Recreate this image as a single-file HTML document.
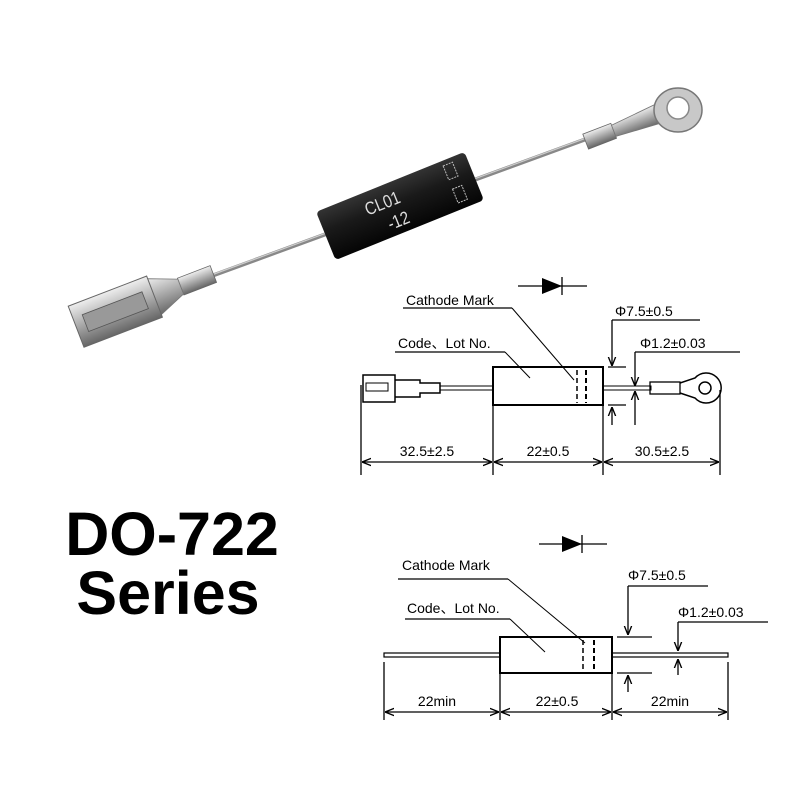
<!DOCTYPE html>
<html><head><meta charset="utf-8"><style>
html,body{margin:0;padding:0;background:#fff;}
svg{display:block;}
text{font-family:"Liberation Sans",sans-serif;}
</style></head><body>
<svg width="800" height="800" viewBox="0 0 800 800" xmlns="http://www.w3.org/2000/svg">
<rect width="800" height="800" fill="#fff"/>
<defs>
<linearGradient id="met" x1="0" y1="0" x2="0" y2="1">
<stop offset="0" stop-color="#eee"/><stop offset="0.5" stop-color="#aaa"/><stop offset="1" stop-color="#666"/>
</linearGradient>
<linearGradient id="blk" x1="0" y1="0" x2="0" y2="1">
<stop offset="0" stop-color="#333"/><stop offset="0.4" stop-color="#1a1a1a"/><stop offset="1" stop-color="#050505"/>
</linearGradient>
<marker id="ar" viewBox="0 0 10 10" refX="10" refY="5" markerWidth="7" markerHeight="7" orient="auto-start-reverse">
<path d="M0,1 L10,5 L0,9" fill="none" stroke="#000" stroke-width="1.5"/>
</marker>
</defs>

<!-- PHOTO -->
<g>
<line x1="195" y1="282" x2="600" y2="134" stroke="#888" stroke-width="4"/>
<line x1="195" y1="281" x2="600" y2="133" stroke="#ccc" stroke-width="1.2"/>
<g transform="translate(400,206) rotate(-22)">
<rect x="-80" y="-26" width="160" height="52" rx="4" fill="url(#blk)"/>
<text x="-18" y="-3" fill="#ddd" font-size="18" text-anchor="middle" transform="scale(0.85,1)">CL01</text>
<text x="-8" y="19" fill="#ddd" font-size="18" text-anchor="middle" transform="scale(0.85,1)">-12</text>
<rect x="55" y="-21" width="10" height="15" fill="none" stroke="#bbb" stroke-width="1" stroke-dasharray="2 1"/>
<rect x="55" y="4" width="10" height="15" fill="none" stroke="#bbb" stroke-width="1" stroke-dasharray="2 1"/>
</g>
<g transform="translate(595,138) rotate(-21)">
<rect x="-10" y="-8" width="30" height="16" fill="url(#met)" stroke="#666" stroke-width="0.8"/>
<path d="M20,-6 L70,-10 L70,10 L20,6 Z" fill="url(#met)" stroke="#777" stroke-width="0.8"/>
</g>
<ellipse cx="678" cy="110" rx="24" ry="22" fill="#c8c8c8" stroke="#777" stroke-width="1.5"/>
<circle cx="678" cy="108" r="11" fill="#fff" stroke="#888" stroke-width="1.5"/>
<g transform="translate(190,283) rotate(-21)">
<rect x="-10" y="-9" width="35" height="18" fill="url(#met)" stroke="#666" stroke-width="0.8"/>
<path d="M-10,-8 L-40,-20 L-40,20 L-10,8 Z" fill="url(#met)" stroke="#777" stroke-width="0.8"/>
<rect x="-122" y="-22" width="84" height="44" fill="url(#met)" stroke="#666" stroke-width="1"/>
<rect x="-112" y="-9" width="64" height="18" fill="#999" stroke="#555" stroke-width="0.8"/>
</g>
</g>

<!-- TOP DRAWING -->
<g stroke="#000" fill="none" stroke-width="1.3">
<line x1="518" y1="286" x2="587" y2="286"/>
<line x1="562" y1="277" x2="562" y2="295"/>
<line x1="403" y1="308" x2="512" y2="308"/>
<line x1="512" y1="308" x2="574" y2="380" stroke-width="1"/>
<line x1="395" y1="352" x2="505" y2="352"/>
<line x1="505" y1="352" x2="530" y2="378" stroke-width="1"/>
<line x1="612" y1="320" x2="700" y2="320"/>
<line x1="612" y1="320" x2="612" y2="366" marker-end="url(#ar)"/>
<line x1="612" y1="425" x2="612" y2="407" marker-end="url(#ar)"/>
<line x1="635" y1="352" x2="740" y2="352"/>
<line x1="635" y1="352" x2="635" y2="386" marker-end="url(#ar)"/>
<line x1="635" y1="425" x2="635" y2="391" marker-end="url(#ar)"/>
<line x1="608" y1="367" x2="626" y2="367"/>
<line x1="608" y1="405" x2="626" y2="405"/>
<rect x="493" y="367" width="110" height="38" stroke-width="2"/>
<line x1="577" y1="370" x2="577" y2="403" stroke-dasharray="5 3" stroke-width="1.5"/>
<line x1="586" y1="370" x2="586" y2="403" stroke-dasharray="5 3" stroke-width="2"/>
<rect x="440" y="386" width="53" height="4" stroke-width="1"/>
<rect x="603" y="386" width="48" height="4" stroke-width="1"/>
<rect x="363" y="375" width="32" height="27" stroke-width="1.5"/>
<rect x="366" y="383" width="22" height="8" stroke-width="1"/>
<path d="M395,380 L420,380 L420,383 L440,383 L440,393 L420,393 L420,397 L395,397" stroke-width="1.5"/>
<rect x="650" y="382" width="30" height="12" stroke-width="1.3"/>
<path d="M680,383 L695,378 A15,15 0 1 1 695,398 L680,393" stroke-width="1.5"/>
<circle cx="705" cy="388" r="6" stroke-width="1.5"/>
<line x1="361" y1="385" x2="361" y2="475"/>
<line x1="493" y1="405" x2="493" y2="475"/>
<line x1="603" y1="405" x2="603" y2="475"/>
<line x1="720" y1="390" x2="720" y2="475"/>
<line x1="362" y1="462" x2="492" y2="462" marker-start="url(#ar)" marker-end="url(#ar)"/>
<line x1="494" y1="462" x2="602" y2="462" marker-start="url(#ar)" marker-end="url(#ar)"/>
<line x1="604" y1="462" x2="719" y2="462" marker-start="url(#ar)" marker-end="url(#ar)"/>
</g>
<polygon points="542,278 542,294 562,286" fill="#000"/>
<g font-size="14" fill="#000">
<text x="406" y="305">Cathode Mark</text>
<text x="398" y="348">Code、Lot No.</text>
<text x="615" y="316">Φ7.5±0.5</text>
<text x="640" y="348">Φ1.2±0.03</text>
<text x="427" y="456" text-anchor="middle">32.5±2.5</text>
<text x="548" y="456" text-anchor="middle">22±0.5</text>
<text x="662" y="456" text-anchor="middle">30.5±2.5</text>
</g>

<!-- TITLE -->
<g font-size="61" font-weight="bold" fill="#000" text-anchor="middle">
<text x="172" y="555">DO-722</text>
<text x="168" y="614">Series</text>
</g>

<!-- BOTTOM DRAWING -->
<g stroke="#000" fill="none" stroke-width="1.3">
<line x1="539" y1="544" x2="607" y2="544"/>
<line x1="582" y1="535" x2="582" y2="553"/>
<line x1="398" y1="579" x2="508" y2="579"/>
<line x1="508" y1="579" x2="585" y2="643" stroke-width="1"/>
<line x1="405" y1="619" x2="510" y2="619"/>
<line x1="510" y1="619" x2="545" y2="652" stroke-width="1"/>
<line x1="628" y1="586" x2="708" y2="586"/>
<line x1="628" y1="586" x2="628" y2="635" marker-end="url(#ar)"/>
<line x1="628" y1="692" x2="628" y2="675" marker-end="url(#ar)"/>
<line x1="678" y1="622" x2="768" y2="622"/>
<line x1="678" y1="622" x2="678" y2="651" marker-end="url(#ar)"/>
<line x1="678" y1="675" x2="678" y2="659" marker-end="url(#ar)"/>
<line x1="617" y1="637" x2="652" y2="637"/>
<line x1="617" y1="673" x2="652" y2="673"/>
<rect x="500" y="637" width="112" height="36" stroke-width="2"/>
<line x1="583" y1="640" x2="583" y2="671" stroke-dasharray="5 3" stroke-width="1.5"/>
<line x1="594" y1="640" x2="594" y2="671" stroke-dasharray="5 3" stroke-width="2"/>
<rect x="384" y="653" width="116" height="4" stroke-width="1.2"/>
<rect x="612" y="653" width="116" height="4" stroke-width="1.2"/>
<line x1="384" y1="662" x2="384" y2="720"/>
<line x1="500" y1="673" x2="500" y2="720"/>
<line x1="612" y1="673" x2="612" y2="720"/>
<line x1="728" y1="662" x2="728" y2="720"/>
<line x1="385" y1="712" x2="499" y2="712" marker-start="url(#ar)" marker-end="url(#ar)"/>
<line x1="501" y1="712" x2="611" y2="712" marker-start="url(#ar)" marker-end="url(#ar)"/>
<line x1="613" y1="712" x2="727" y2="712" marker-start="url(#ar)" marker-end="url(#ar)"/>
</g>
<polygon points="562,536 562,552 582,544" fill="#000"/>
<g font-size="14" fill="#000">
<text x="402" y="570">Cathode Mark</text>
<text x="407" y="613">Code、Lot No.</text>
<text x="628" y="580">Φ7.5±0.5</text>
<text x="678" y="617">Φ1.2±0.03</text>
<text x="437" y="706" text-anchor="middle">22min</text>
<text x="557" y="706" text-anchor="middle">22±0.5</text>
<text x="670" y="706" text-anchor="middle">22min</text>
</g>
</svg>
</body></html>
